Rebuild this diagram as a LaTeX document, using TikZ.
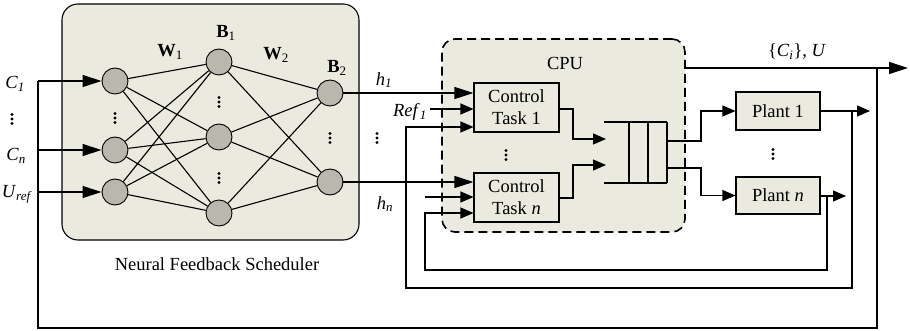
\documentclass[tikz,border=0pt]{standalone}
\usepackage{fontspec}
\setmainfont{Liberation Serif}
\usetikzlibrary{arrows.meta}
\definecolor{panel}{RGB}{235,234,223}
\definecolor{cell}{RGB}{185,184,174}
\newcommand{\isub}[2]{\textit{#1}\textsubscript{\textit{#2}}}
\newcommand{\bsub}[2]{\textbf{#1}\textsubscript{#2}}
\newcommand{\dotsat}[2]{
	\coordinate (#1) at (#2);
	\foreach \d in {-4.5,0,4.5}
		\fill ($(#1)+(0,\d)$) circle (1.6pt);
}
\usetikzlibrary{calc}

\tikzset{
	neuron/.style={circle, draw, fill=cell, minimum size=26pt, inner sep=0pt, line width=0.9pt},
	panelbox/.style={draw, fill=panel, line width=1.1pt, inner sep=0pt},
	block/.style={panelbox, align=center},
	edge/.style={line width=1.1pt},
	wire/.style={line width=1.1pt},
	bigarr/.style={wire, -{Triangle[length=19pt,width=12pt]}},
	arr/.style={wire, -{Triangle[length=13pt,width=11pt]}},
}

\begin{document}
\begin{tikzpicture}[x=1pt,y=-1pt,font=\fontsize{18.5}{22}\selectfont]
	\useasboundingbox (0,0) rectangle (910,331);

	\node[panelbox, minimum width=297pt, minimum height=236pt, rounded corners=16pt] (nfs) at (210.5,122) {};
	\node (nfslabel) at (217,264) {Neural Feedback Scheduler};
	\node[panelbox, line width=1.6pt, dash pattern=on 9pt off 5pt, rounded corners=13pt,
		minimum width=243pt, minimum height=193pt] (cpu) at (563.5,135.5) {};
	\node (cpulabel) at (565,63) {CPU};

	\foreach \n/\x/\y in {in1/115/81, in2/115/150, in3/115/192,
		hid1/219/62, hid2/219/137, hid3/219/213, out1/330/93, out2/330/182}
		\node[neuron] (\n) at (\x,\y) {};
	\foreach \i in {1,2,3}
		\foreach \j in {1,2,3}
			\draw[edge] (in\i) -- (hid\j);
	\foreach \j in {1,2,3}
		\foreach \k in {1,2}
			\draw[edge] (hid\j) -- (out\k);

	\node (w1) at (170,52) {\bsub{W}{1}};
	\node (b1) at (226,33) {\bsub{B}{1}};
	\node (w2) at (276,55) {\bsub{W}{2}};
	\node (b2) at (337,68) {\bsub{B}{2}};
	\node (c1) at (15,84) {\isub{C}{1}};
	\node (cn) at (16,156) {\isub{C}{n}};
	\node (uref) at (17,194) {\isub{U}{ref}};
	\node (h1) at (384,80) {\isub{h}{1}};
	\node (hn) at (385,204) {\isub{h}{n}};
	\node (ref1) at (410,112) {\isub{Ref}{1}};
	\node (ciu) at (797,52) {\{\isub{C}{i}\}, \textit{U}};

	\dotsat{d1}{12,119}
	\dotsat{d2}{115,118}
	\dotsat{d3}{219,102}
	\dotsat{d4}{219,178}
	\dotsat{d5}{330,138}
	\dotsat{d6}{377,138}
	\dotsat{d7}{506,155}
	\dotsat{d8}{773,154}

	\node[block, minimum width=85pt, minimum height=49pt] (task1) at (516.5,107.5) {Control\\Task 1};
	\node[block, minimum width=85pt, minimum height=49pt] (taskn) at (516.5,197.5) {Control\\Task \textit{n}};
	\node[block, minimum width=84pt, minimum height=38pt] (plant1) at (778,111) {Plant 1};
	\node[block, minimum width=84pt, minimum height=37pt] (plantn) at (778,195.5) {Plant \textit{n}};

	\coordinate (tapC) at (38,81);
	\coordinate (tapL) at (877,68);
	\draw[bigarr] (tapC) -- (in1.west);
	\draw[bigarr] (tapC |- in2) -- (in2.west);
	\draw[bigarr] (tapC |- in3) -- (in3.west);
	\draw[wire] (tapL) -- (877,328) -| (tapC);
	\draw[bigarr] (cpu.east |- tapL) -- (908,68);

	\draw[bigarr] (out1.east) -- (out1 -| task1.west);
	\draw[bigarr] (out2.east) -- (out2 -| taskn.west);
	\draw[arr] (430,109) -- (task1.west |- 0,109);
	\draw[arr] (425,197) -- (taskn.west |- 0,197);

	\coordinate (q1) at (606,139);
	\coordinate (q2) at (606,165);
	\draw[arr] (task1.east |- 0,109) -- (573,109) |- (q1);
	\draw[arr] (taskn.east |- 0,198) -- (573,198) |- (q2);
	\draw[wire] (604,122) -- (667,122) (604,183) -- (667,183);
	\foreach \x in {629,648,667}
		\draw[wire] (\x,122) -- (\x,183);
	\draw[arr] (667,141) -- (701,141) |- (plant1.west);
	\draw[arr] (667,168) -- (701,168) |- (plantn.west);

	\coordinate (tap1) at (852,111);
	\coordinate (tapn) at (827,196);
	\draw[arr] (plant1.east) -- (870,111);
	\draw[arr] (plantn.east |- tapn) -- (846,196);
	\draw[arr] (tap1) -- (852,288) -| (406,127) -- (task1.west |- 0,127);
	\draw[arr] (tapn) -- (827,270) -| (425,213) -- (taskn.west |- 0,213);
\end{tikzpicture}
\end{document}
